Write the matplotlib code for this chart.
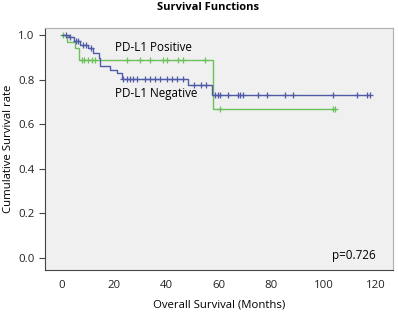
import numpy as np
import matplotlib
matplotlib.use("Agg")
from matplotlib import pyplot as plt

plt.rcParams['font.family'] = ['Open Sans', 'DejaVu Sans']

# Kaplan-Meier steps (time in months, survival after the step)
neg_t = [0, 2.5, 4.5, 7, 10, 12, 14, 14.5, 18.5, 21, 23, 48, 57.5]
neg_s = [1.0, 0.99, 0.975, 0.955, 0.94, 0.92, 0.895, 0.86, 0.845, 0.83, 0.805, 0.775, 0.73]
neg_end = 117.7
neg_cens = [1.5, 3, 5.5, 6, 8, 9, 11, 23.5, 24.7, 26, 27.3, 28.5, 31.7, 33.6, 35.5,
            37.4, 40, 41.9, 43.8, 46.3, 50.5, 53, 55, 58.5, 59.6, 60.4, 63.5,
            67.3, 68, 69.2, 75, 78.3, 85.2, 88.3, 103.6, 112.7, 116.5, 117.7]

pos_t = [0, 2, 5, 6.5, 57.7]
pos_s = [1.0, 0.97, 0.94, 0.89, 0.67]
pos_end = 104.3
pos_cens = [0.5, 7.5, 8.5, 10, 11.5, 12.5, 24.7, 29.8, 33.6, 38.7, 40, 44.5, 46.3,
            54.5, 60.4, 103.7, 104.3]

blue = '#4f5aa8'
green = '#6cc15c'


def step_value(t, s, x):
    i = np.searchsorted(t, x, side='right') - 1
    return np.array(s)[i]


fig = plt.figure(figsize=(3.98, 3.14), dpi=100)
ax = fig.add_axes([0.113, 0.140, 0.874, 0.771])
ax.set_facecolor('#f0f0f0')

for t, s, end, cens, c in [(pos_t, pos_s, pos_end, pos_cens, green),
                           (neg_t, neg_s, neg_end, neg_cens, blue)]:
    tt = list(t) + [end]
    ss = list(s) + [s[-1]]
    ax.plot(tt, ss, drawstyle='steps-post', color=c, lw=1.0)
    ax.plot(cens, step_value(t, s, cens), '+', color=c, ms=4, mew=0.9)

ax.text(20.3, 0.942, 'PD-L1 Positive', fontsize=8.4, va='center', ha='left')
ax.text(20.3, 0.736, 'PD-L1 Negative', fontsize=8.4, va='center', ha='left')
ax.text(120, 0.01, 'p=0.726', fontsize=8.4, va='center', ha='right')

ax.set_xlim(-6.5, 126.5)
ax.set_ylim(-0.055, 1.032)
ax.set_xticks(range(0, 121, 20))
ax.set_yticks([0.0, 0.2, 0.4, 0.6, 0.8, 1.0])
ax.set_yticklabels(['0.0', '0.2', '0.4', '0.6', '0.8', '1.0'])
ax.tick_params(axis='both', labelsize=8.2, color='#444444', labelcolor='#222222')
ax.tick_params(axis='x', length=0, pad=7)
ax.tick_params(axis='y', length=4, width=0.8)
for side in ['top', 'right']:
    ax.spines[side].set_color('#b0b0b0')
for side in ['left', 'bottom']:
    ax.spines[side].set_color('#444444')

ax.set_xlabel('Overall Survival (Months)', fontsize=8.2)
ax.xaxis.set_label_coords(0.5, -0.145)
ax.set_ylabel('Cumulative Survival rate', fontsize=8.2)
ax.yaxis.set_label_coords(-0.106, 0.5)
ax.yaxis.label.set_va('center')
ax.xaxis.label.set_va('center')
fig.text(0.523, 0.975, 'Survival Functions', fontsize=8, fontweight='bold',
         ha='center', va='center')

fig.savefig('out.png', dpi=100)
